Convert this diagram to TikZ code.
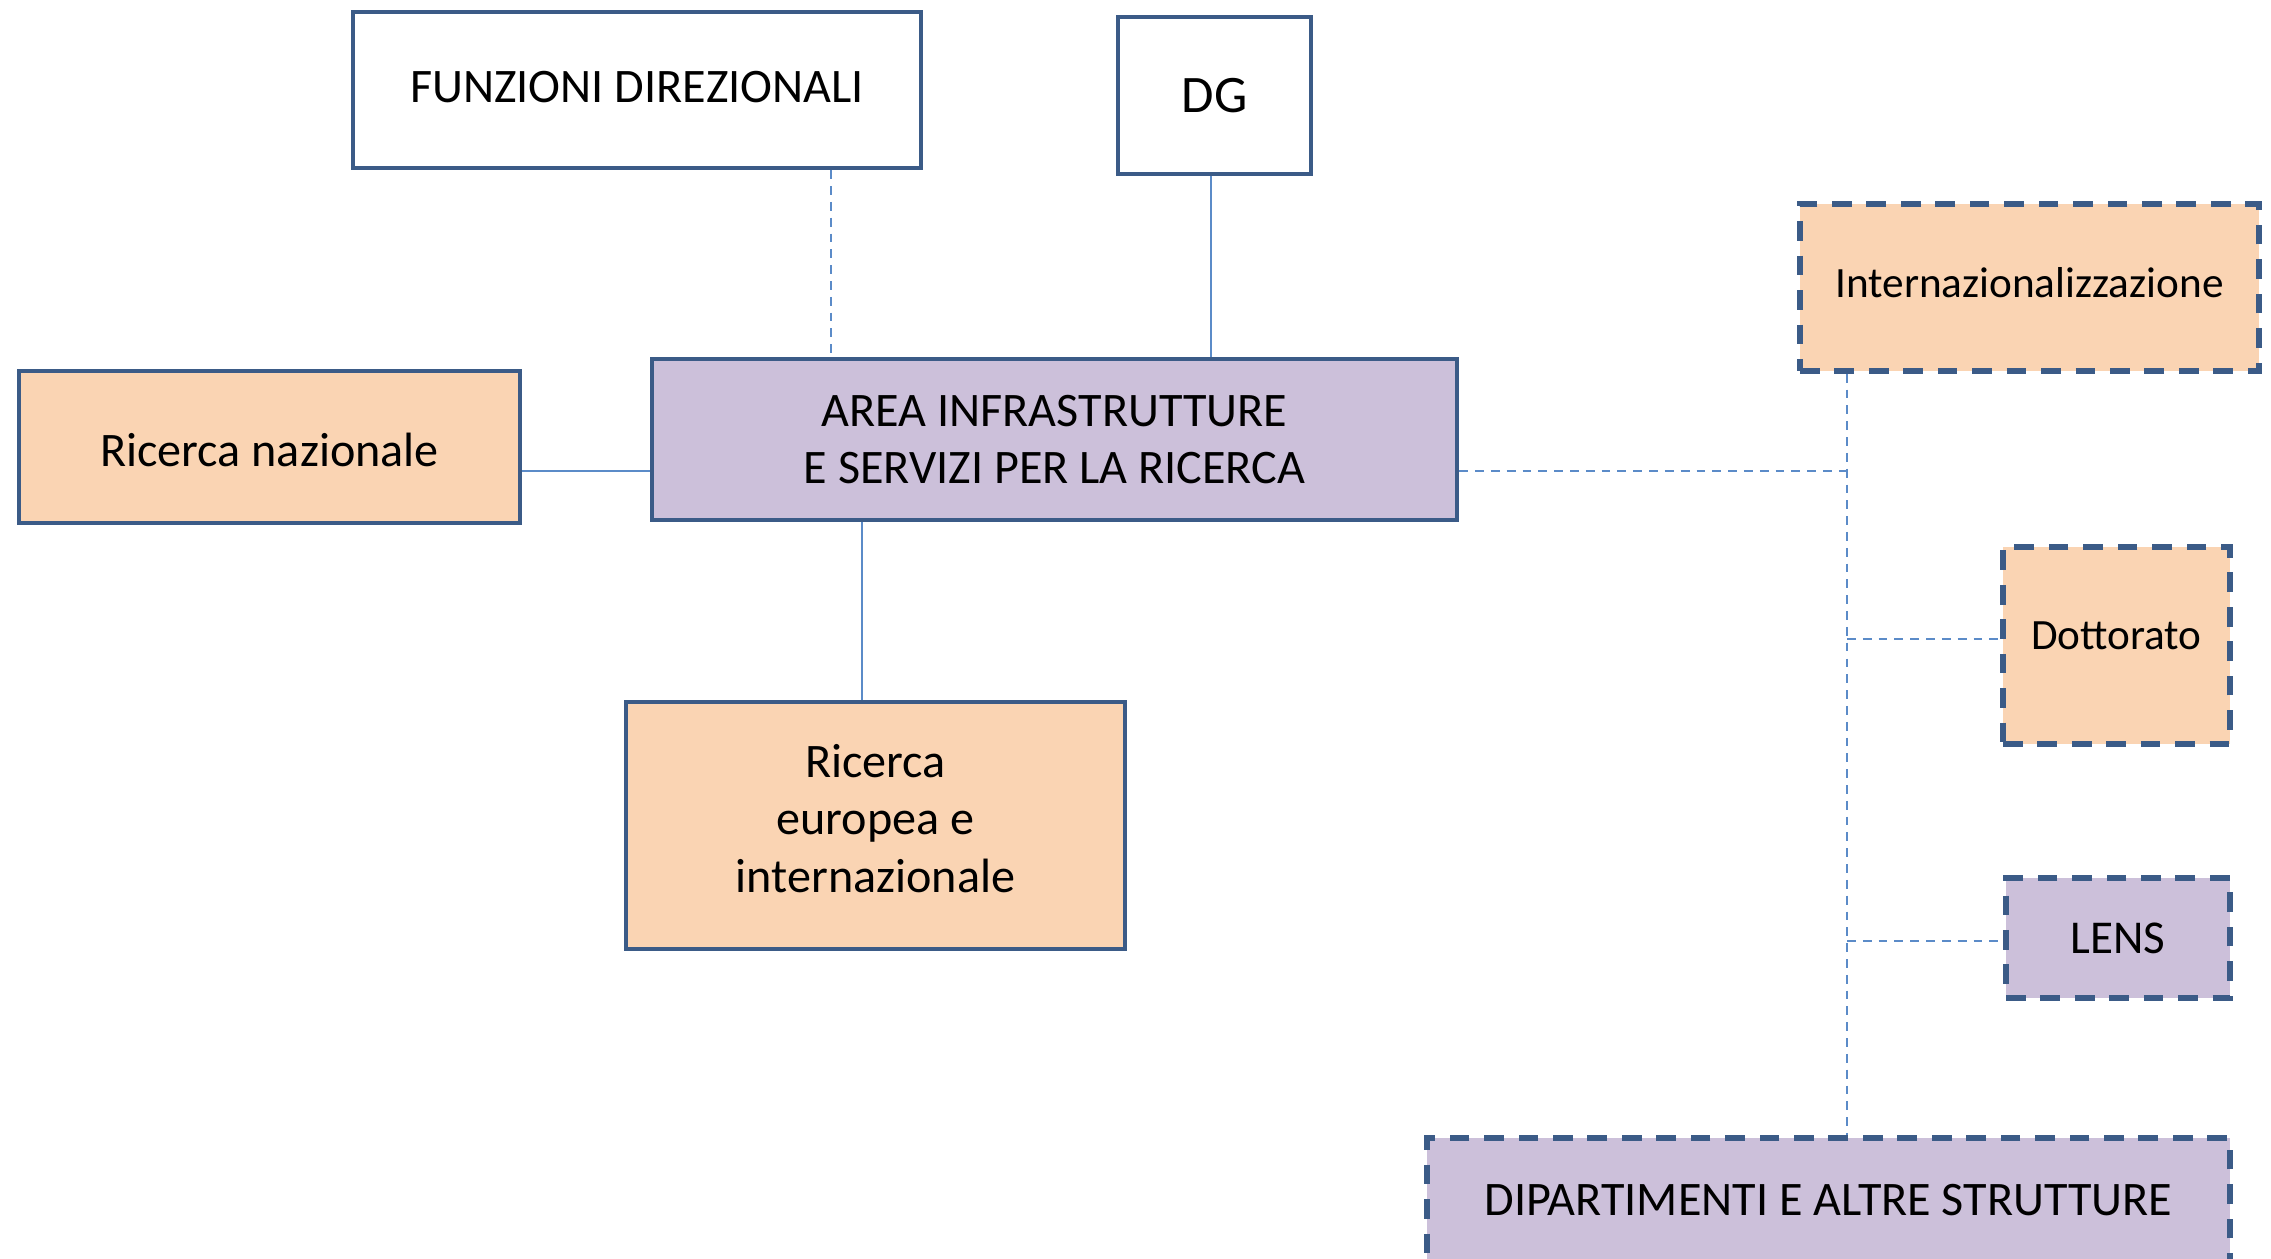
\documentclass[tikz,border=0pt]{standalone}
\usepackage{fontspec}
\setmainfont{Carlito}
\definecolor{bord}{HTML}{3B5B87}
\definecolor{peach}{HTML}{FAD4B3}
\definecolor{lav}{HTML}{CCC0DA}
\definecolor{conn}{HTML}{5B8BC8}
\tikzset{
  box/.style={draw=bord, line width=1.3pt, inner sep=0pt, align=center,
    font=\fontsize{13.7}{16.4}\selectfont},
  dbox/.style={box, line width=1.6pt, dash pattern=on 5.6pt off 4.2pt},
  small/.style={font=\fontsize{12.3}{15}\selectfont},
  txt/.style={inner sep=0pt, align=center, font=\fontsize{13.7}{16.4}\selectfont},
  link/.style={draw=conn, line width=0.45pt},
  dlink/.style={link, dash pattern=on 2.5pt off 2pt}
}
\begin{document}
\begin{tikzpicture}
\useasboundingbox (0,0) rectangle (22.71,-12.58);
\node[box, fill=white, minimum width=5.68cm, minimum height=1.56cm] (fun) at (6.37,-0.90) {\raisebox{0.3mm}[\height][\depth]{FUNZIONI DIREZIONALI}};
\node[box, fill=white, minimum width=1.93cm, minimum height=1.57cm, font=\fontsize{15}{18}\selectfont] (dg) at (12.145,-0.955) {DG};
\node[box, fill=lav, minimum width=8.05cm, minimum height=1.61cm] (area) at (10.545,-4.395) {AREA INFRASTRUTTURE\\E SERVIZI PER LA RICERCA};
\node[box, fill=peach, minimum width=5.01cm, minimum height=1.52cm] (rn) at (2.695,-4.47) {\raisebox{-0.3mm}[\height][\depth]{Ricerca nazionale}};
\node[box, fill=peach, minimum width=4.99cm, minimum height=2.47cm] (re) at (8.755,-8.255) {};
\node[txt] (ret) at ([yshift=0.07cm]re.center) {Ricerca\\europea e\\internazionale};
\node[dbox, small, fill=peach, minimum width=4.59cm, minimum height=1.67cm] (int) at (20.295,-2.875) {\raisebox{0.45mm}[\height][\depth]{Internazionalizzazione}};
\node[dbox, small, fill=peach, minimum width=2.27cm, minimum height=1.97cm] (dot) at (21.165,-6.455) {\raisebox{1mm}[\height][\depth]{Dottorato}};
\node[dbox, fill=lav, minimum width=2.24cm, minimum height=1.20cm, font=\fontsize{13.4}{16}\selectfont] (lens) at (21.18,-9.38) {LENS};
\node[dbox, fill=lav, minimum width=8.03cm, minimum height=1.24cm] (dip) at (18.285,-12.00) {DIPARTIMENTI E ALTRE STRUTTURE};

\coordinate (xf) at (8.31,0);
\coordinate (xd) at (12.11,0);
\coordinate (xe) at (8.62,0);
\coordinate (xb) at (18.47,0);
\coordinate (ya) at (0,-4.71);
\coordinate (yd) at (0,-6.39);
\coordinate (yl) at (0,-9.41);
\coordinate (bus) at (xb |- ya);

\draw[dlink] (fun.south -| xf) -- (area.north -| xf);
\draw[link] (dg.south -| xd) -- (area.north -| xd);
\draw[link] (rn.east |- ya) -- (area.west |- ya);
\draw[link] (area.south -| xe) -- (re.north -| xe);
\draw[dlink] (area.east |- ya) -- (bus);
\draw[dlink] (int.south -| xb) -- (dip.north -| xb);
\draw[dlink] (xb |- yd) -- (dot.west |- yd);
\draw[dlink] (xb |- yl) -- (lens.west |- yl);
\end{tikzpicture}
\end{document}
